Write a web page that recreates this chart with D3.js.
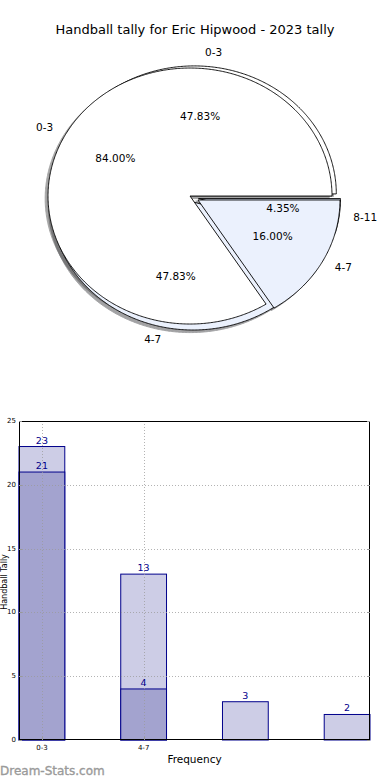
<!DOCTYPE html>
<html>
<head>
<meta charset="utf-8">
<script src="https://cdn.jsdelivr.net/npm/d3@7"></script>
<style>
  html, body { margin: 0; padding: 0; background: #fff; }
  svg { display: block; font-family: "DejaVu Sans", sans-serif; }
</style>
</head>
<body>
<svg id="chart" width="390" height="780"></svg>
<script>
// ---------- data ----------
const chartTitle = "Handball tally for Eric Hipwood - 2023 tally";
const outerLabels = ["0-3", "4-7", "8-11"];
const outerValues = [11, 11, 1];
const innerLabels = ["0-3", "4-7"];
const innerValues = [21, 4];

const barCategories = ["0-3", "4-7", "8-11", "12-15"];
const barTickLabels = ["0-3", "4-7"];
const lightValues = [23, 13, 3, 2];
const darkValues = [21, 4];
const yTicks = [0, 5, 10, 15, 20, 25];

// ---------- setup ----------
const svg = d3.select("#chart");
const pieColors = ["#ffffff", "#ebf1fd", "#dfe8fa"];

svg.append("text")
  .attr("x", 195).attr("y", 30)
  .attr("text-anchor", "middle").attr("dominant-baseline", "middle")
  .style("font-size", "13px").attr("fill", "#000")
  .text(chartTitle);

// ---------- pie ----------
const px = d3.scaleLinear().domain([-1, 1]).range([194 - 142, 194 + 142]);
const py = d3.scaleLinear().domain([-1, 1]).range([198 + 128, 198 - 128]);
const explode = 0.032;
const pieGen = d3.pie().sort(null).startAngle(0).endAngle(2 * Math.PI);
const lineGen = d3.line().x(d => px(d[0])).y(d => py(d[1]));

function wedgePath(a0, a1, cx, cy) {
  const pts = [[cx, cy]];
  const n = Math.max(2, Math.ceil((a1 - a0) / 0.01));
  for (let i = 0; i <= n; i++) {
    const t = a0 + (a1 - a0) * i / n;
    pts.push([cx + Math.cos(t), cy + Math.sin(t)]);
  }
  return lineGen(pts) + "Z";
}

function buildPie(labels, values) {
  return pieGen(values).map((d, i) => {
    const mid = (d.startAngle + d.endAngle) / 2;
    const cx = explode * Math.cos(mid), cy = explode * Math.sin(mid);
    return { label: labels[i], value: d.value, a0: d.startAngle, a1: d.endAngle, mid, cx, cy,
             color: pieColors[i % pieColors.length],
             pct: (100 * d.value / d3.sum(values)).toFixed(2) + "%" };
  });
}
const outerPie = buildPie(outerLabels, outerValues);
const innerPie = buildPie(innerLabels, innerValues);
const allWedges = outerPie.concat(innerPie);

const sdx = px(-0.02) - px(0), sdy = py(-0.02) - py(0);
const shadowG = svg.append("g").attr("transform", `translate(${sdx},${sdy})`);
allWedges.forEach(w => {
  const c = d3.rgb(w.color);
  const sc = d3.rgb(c.r * 0.3, c.g * 0.3, c.b * 0.3);
  shadowG.append("path").attr("d", wedgePath(w.a0, w.a1, w.cx, w.cy))
    .attr("fill", sc).attr("stroke", sc).attr("stroke-width", 1).attr("opacity", 0.5);
});
const wedgeG = svg.append("g");
allWedges.forEach(w => {
  wedgeG.append("path").attr("d", wedgePath(w.a0, w.a1, w.cx, w.cy))
    .attr("fill", w.color).attr("stroke", "#000").attr("stroke-width", 0.9)
    .attr("stroke-linejoin", "miter");
});
const labelG = svg.append("g").style("font-size", "10.5px").attr("fill", "#000");
allWedges.forEach(w => {
  const lx = w.cx + 1.1 * Math.cos(w.mid), ly = w.cy + 1.1 * Math.sin(w.mid);
  labelG.append("text").attr("x", px(lx)).attr("y", py(ly))
    .attr("text-anchor", lx > 0 ? "start" : "end").attr("dominant-baseline", "middle")
    .text(w.label);
  const tx = w.cx + 0.6 * Math.cos(w.mid), ty = w.cy + 0.6 * Math.sin(w.mid);
  labelG.append("text").attr("x", px(tx)).attr("y", py(ty))
    .attr("text-anchor", "middle").attr("dominant-baseline", "middle")
    .text(w.pct);
});

// ---------- bar chart ----------
const L = 19, R = 370, T = 421, B = 740;
const barW = 0.45;
const x = d3.scaleLinear().domain([-barW / 2, barCategories.length - 1 + barW / 2]).range([L, R]);
const y = d3.scaleLinear().domain([0, 25]).range([B, T]);
const g = svg.append("g");

// light bars
g.selectAll("rect.light").data(lightValues).enter().append("rect")
  .attr("class", "light")
  .attr("x", (d, i) => x(i - barW / 2)).attr("width", x(barW) - x(0))
  .attr("y", d => y(d)).attr("height", d => y(0) - y(d))
  .attr("fill", "#cdcde6").attr("stroke", "#00008b").attr("stroke-width", 1);
// dark bars
g.selectAll("rect.dark").data(darkValues).enter().append("rect")
  .attr("class", "dark")
  .attr("x", (d, i) => x(i - barW / 2)).attr("width", x(barW) - x(0))
  .attr("y", d => y(d)).attr("height", d => y(0) - y(d))
  .attr("fill", "#a3a3cf").attr("stroke", "#00008b").attr("stroke-width", 1);

// grid
const gridG = g.append("g").attr("stroke", "#999").attr("stroke-opacity", 0.75)
  .attr("stroke-width", 1).attr("stroke-dasharray", "1,2");
yTicks.filter(t => t > 0 && t < 25).forEach(t => {
  gridG.append("line").attr("x1", L).attr("x2", R).attr("y1", Math.round(y(t)) + 0.5).attr("y2", Math.round(y(t)) + 0.5);
});
barTickLabels.forEach((lab, i) => {
  gridG.append("line").attr("x1", Math.round(x(i)) + 0.5).attr("x2", Math.round(x(i)) + 0.5).attr("y1", T).attr("y2", B);
});

// value labels
const valG = g.append("g").style("font-size", "9.5px").attr("fill", "#00008b").attr("text-anchor", "middle");
lightValues.forEach((v, i) => valG.append("text").attr("x", x(i)).attr("y", y(v) - 3).text(v));
darkValues.forEach((v, i) => valG.append("text").attr("x", x(i)).attr("y", y(v) - 3).text(v));

// frame
g.append("rect").attr("x", L + 0.5).attr("y", T + 0.5).attr("width", R - L - 1).attr("height", B - T - 1)
  .attr("fill", "none").attr("stroke", "#000").attr("stroke-width", 1);

// ticks
const tickG = g.append("g").attr("stroke", "#999").attr("stroke-width", 1);
yTicks.forEach(t => {
  const yy = Math.round(y(t)) + 0.5;
  tickG.append("line").attr("x1", L).attr("x2", L + 3).attr("y1", yy).attr("y2", yy);
  tickG.append("line").attr("x1", R - 3).attr("x2", R).attr("y1", yy).attr("y2", yy);
});
barTickLabels.forEach((lab, i) => {
  const xx = Math.round(x(i)) + 0.5;
  tickG.append("line").attr("x1", xx).attr("x2", xx).attr("y1", B - 3).attr("y2", B);
});

const axG = g.append("g").style("font-size", "7px").attr("fill", "#000");
yTicks.forEach(t => {
  axG.append("text").attr("x", L - 3).attr("y", y(t)).attr("text-anchor", "end")
    .attr("dominant-baseline", "middle").text(t);
});
barTickLabels.forEach((lab, i) => {
  axG.append("text").attr("x", x(i)).attr("y", B + 8).attr("text-anchor", "middle")
    .attr("dominant-baseline", "middle").text(lab);
});

svg.append("text").attr("x", 194.5).attr("y", 760).attr("text-anchor", "middle")
  .attr("dominant-baseline", "middle").style("font-size", "10.5px").text("Frequency");
svg.append("text").attr("transform", "translate(7,582) rotate(-90)").attr("text-anchor", "middle")
  .style("font-size", "8px").text("Handball Tally");

svg.append("text").attr("x", 0).attr("y", 771).attr("dominant-baseline", "middle")
  .style("font-size", "12px").attr("fill", "#9a9a9a").attr("stroke", "#9a9a9a").attr("stroke-width", 0.35)
  .text("Dream-Stats.com");
</script>
</body>
</html>
